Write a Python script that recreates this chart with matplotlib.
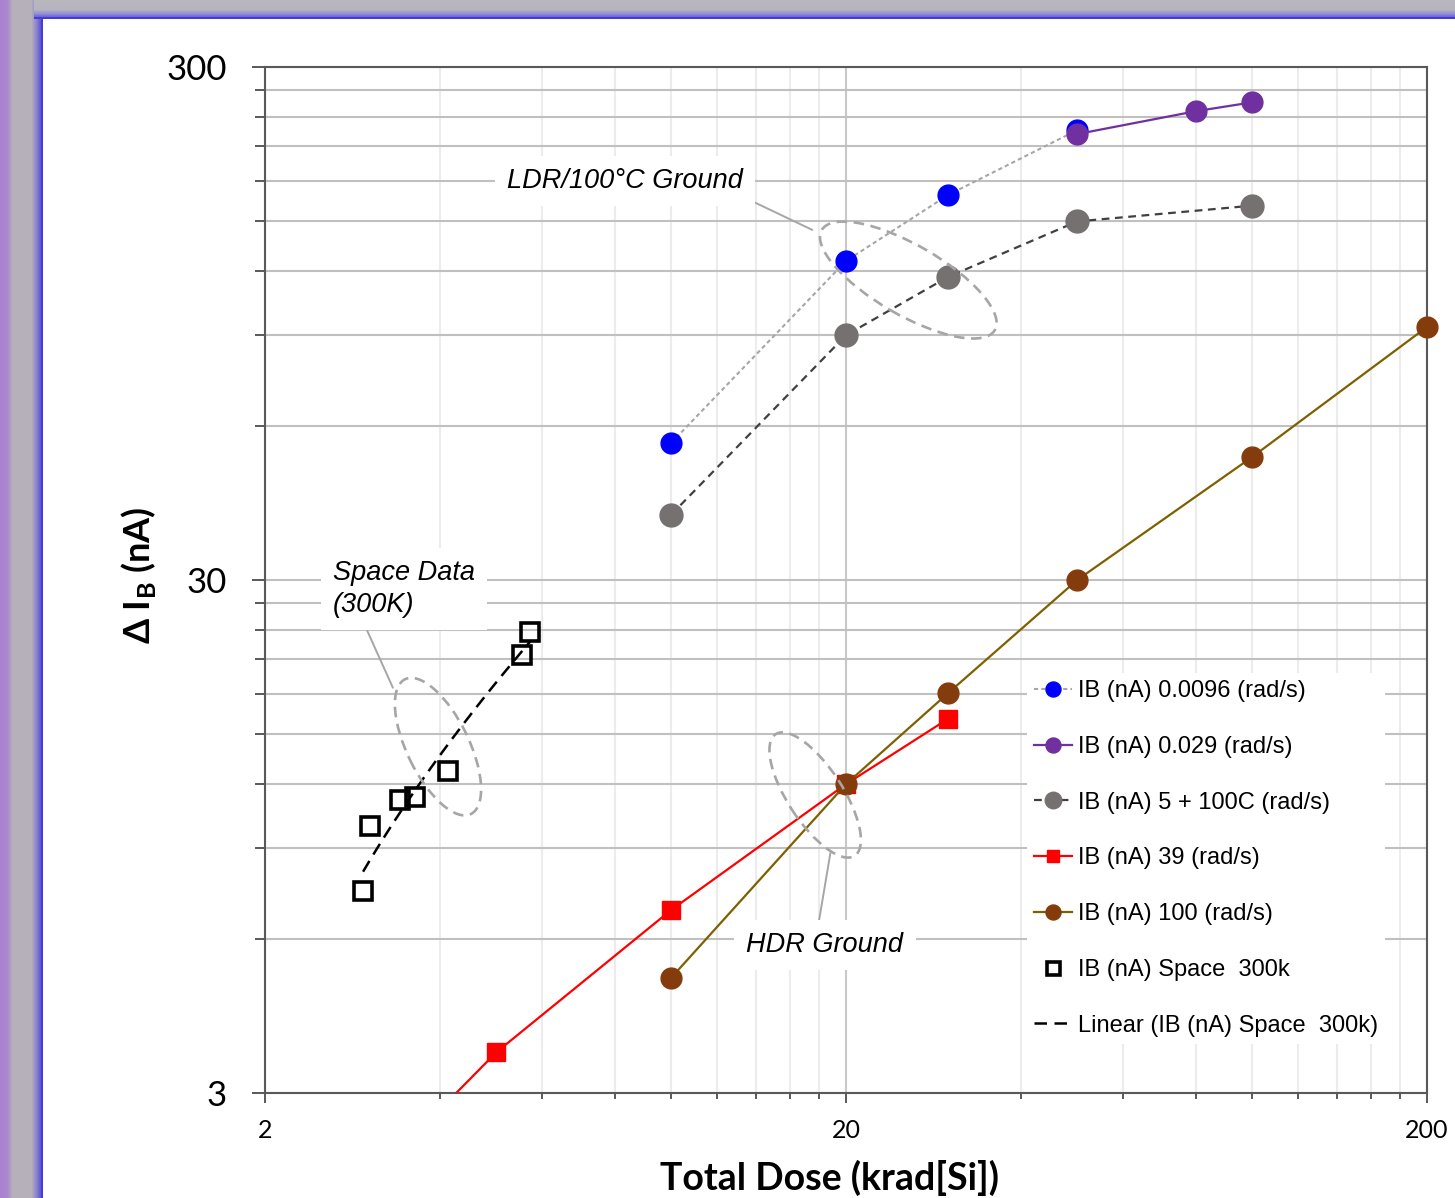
import numpy as np
import matplotlib.pyplot as plt
from matplotlib.patches import Ellipse, Rectangle
from matplotlib.transforms import ScaledTranslation
from matplotlib.ticker import NullFormatter

# data
dose_0096 = [10, 20, 30, 50]
ib_0096 = [55.5, 125.6, 169, 226]
dose_029 = [50, 80, 100]
ib_029 = [222, 246, 256]
dose_100c = [10, 20, 30, 50, 100]
ib_100c = [40.2, 90, 117, 150, 161]
dose_39 = [3, 5, 10, 20, 30]
ib_39 = [2.0, 3.6, 6.82, 12, 16.1]
dose_100 = [10, 20, 30, 50, 100, 200]
ib_100 = [5.03, 12, 18.07, 30, 52.1, 93.4]
dose_space = [2.95, 3.03, 3.42, 3.62, 4.13, 5.54, 5.72]
ib_space = [7.43, 9.94, 11.18, 11.32, 12.73, 21.4, 23.75]

series_labels = ['IB (nA) 0.0096 (rad/s)', 'IB (nA) 0.029 (rad/s)', 'IB (nA) 5 + 100C (rad/s)',
                 'IB (nA) 39 (rad/s)', 'IB (nA) 100 (rad/s)', 'IB (nA) Space  300k',
                 'Linear (IB (nA) Space  300k)']
x_ticks = [2, 20, 200]
x_minor = [4, 6, 8, 10, 12, 14, 16, 18, 40, 60, 80, 100, 120, 140, 160, 180]
y_ticks = [3, 30, 300]
y_minor = [6, 9, 12, 15, 18, 21, 24, 27, 60, 90, 120, 150, 180, 210, 240, 270]

plt.rcParams['font.family'] = ['Lato', 'DejaVu Sans']
plt.rcParams['mathtext.fontset'] = 'custom'
plt.rcParams['mathtext.rm'] = 'Lato'
plt.rcParams['mathtext.bf'] = 'Lato:bold'

W, H = 1455, 1198
fig = plt.figure(figsize=(W / 100, H / 100), dpi=100, facecolor='white')

# slide frame behind the chart
bg = fig.add_axes([0, 0, 1, 1], zorder=-10)
xs = np.arange(43)
lp = [0, 7, 12, 31, 36, 40, 41, 43]
lc = np.array([(170, 128, 210), (172, 135, 205), (181, 176, 186), (181, 176, 186),
               (140, 132, 205), (95, 90, 212), (70, 60, 215), (70, 60, 215)]) / 255
left = np.stack([np.interp(xs, lp, lc[:, k]) for k in range(3)], axis=-1)
bg.imshow(left[np.newaxis], extent=(0, 43, H, 0), aspect='auto')
ys = np.arange(19)
tp = [0, 9, 13, 16, 17, 19]
tc = np.array([(186, 182, 190), (183, 180, 192), (150, 146, 212), (110, 104, 218),
               (70, 60, 212), (70, 60, 212)]) / 255
top = np.stack([np.interp(ys, tp, tc[:, k]) for k in range(3)], axis=-1)
bg.imshow(top[:, np.newaxis], extent=(34, W, 19, 0), aspect='auto')
bg.add_patch(Rectangle((43, 19), W - 43, H - 19, fc='white', ec='none'))
bg.set_xlim(0, W)
bg.set_ylim(H, 0)
bg.axis('off')

ax = fig.add_axes([265 / W, 1 - 1093 / H, (1427 - 265) / W, (1093 - 67) / H])
ax.set_xscale('log')
ax.set_yscale('log')

ax.plot(dose_0096, ib_0096, color='#a6a6a6', lw=1.5, ls=(0, (2, 1.5)), marker='o', ms=15,
        mfc='#0000ff', mec='#0000ff', label=series_labels[0], zorder=3)
ax.plot(dose_029, ib_029, color='#7030a0', lw=1.6, marker='o', ms=15,
        mfc='#7030a0', mec='#7030a0', label=series_labels[1], zorder=4)
ax.plot(dose_100c, ib_100c, color='#404040', lw=1.6, ls=(0, (3.5, 2.5)), marker='o', ms=16.5,
        mfc='#767171', mec='#767171', label=series_labels[2], zorder=3)
ax.plot(dose_39, ib_39, color='#ff0000', lw=1.6, marker='s', ms=12.5,
        mfc='#ff0000', mec='#ff0000', label=series_labels[3], zorder=4)
ax.plot(dose_100, ib_100, color='#7f6000', lw=1.6, marker='o', ms=15,
        mfc='#843c0c', mec='#843c0c', label=series_labels[4], zorder=5, clip_on=False)
ax.plot(dose_space, ib_space, ls='none', marker='s', ms=13, mfc='none', mec='black',
        mew=2.6, label=series_labels[5], zorder=6)

# Excel-style linear trendline on the space data
slope, icpt = np.polyfit(dose_space, ib_space, 1)
xt = np.linspace(min(dose_space), max(dose_space), 50)
ax.plot(xt, slope * xt + icpt, color='black', lw=1.8, ls=(0, (5, 3)),
        label=series_labels[6], zorder=7)

ax.set_xlim(2, 200)
ax.set_ylim(3, 300)
ax.set_xticks(x_ticks, labels=[str(v) for v in x_ticks])
ax.set_xticks(x_minor, minor=True)
ax.set_yticks(y_ticks, labels=[str(v) for v in y_ticks])
ax.set_yticks(y_minor, minor=True)
ax.xaxis.set_minor_formatter(NullFormatter())
ax.yaxis.set_minor_formatter(NullFormatter())

ax.set_axisbelow(True)
ax.grid(axis='y', which='both', color='#c0c0c0', lw=1.5)
ax.grid(axis='x', which='minor', color='#ececec', lw=1.5)
ax.grid(axis='x', which='major', color='#c8c8c8', lw=1.5)

for s in ax.spines.values():
    s.set_color('#595959')
    s.set_linewidth(1.5)
ax.tick_params(axis='y', which='major', labelsize=25, length=9.4, width=1.4,
               color='#595959', pad=18)
ax.tick_params(axis='y', which='minor', length=7.2, width=1.4, color='#595959')
ax.tick_params(axis='x', which='major', labelsize=18, length=7, width=1.4,
               color='#595959', pad=12)
ax.tick_params(axis='x', which='minor', length=4.5, width=1.4, color='#595959')

fig.text(829 / W, 1 - 1178 / H, 'Total Dose (krad[Si])', fontsize=27, fontweight='bold',
         ha='center', va='center')
fig.text(138 / W, 1 - 575 / H, r'Δ I$_{\mathbf{B}}$ (nA)', fontsize=26, fontweight='bold',
         rotation=90, ha='center', va='center')

# callouts
note_font = ['Liberation Sans', 'DejaVu Sans']
box = dict(boxstyle='square,pad=0.45', fc='white', ec='none')
ax.annotate('LDR/100°C Ground', xy=(17.5, 144.4), xytext=(8.33, 180), ha='center', va='center',
            fontsize=19.5, style='italic', family=note_font, bbox=box, zorder=6,
            arrowprops=dict(arrowstyle='-', color='#a6a6a6', lw=1.4, shrinkA=0, shrinkB=0,
                            relpos=(0.95, 0.1)))
ax.annotate('Space Data\n(300K)', xy=(3.32, 18.5), xytext=(2.62, 28.8), ha='left', va='center',
            fontsize=19.5, style='italic', family=note_font, bbox=box, zorder=6,
            linespacing=1.3,
            arrowprops=dict(arrowstyle='-', color='#a6a6a6', lw=1.4, shrinkA=0, shrinkB=0,
                            relpos=(0.2, 0.0)))
ax.annotate('HDR Ground', xy=(18.8, 8.81), xytext=(18.4, 5.83), ha='center', va='center',
            fontsize=19.5, style='italic', family=note_font, bbox=box, zorder=6,
            arrowprops=dict(arrowstyle='-', color='#a6a6a6', lw=1.4, shrinkA=0, shrinkB=0,
                            relpos=(0.45, 1.0)))

for cx, cy, w, h, ang in [(3.97, 14.2, 1.50, 0.62, -64), (25.6, 115.3, 2.0, 0.70, -30),
                          (17.7, 11.43, 1.45, 0.55, -57)]:
    ax.add_patch(Ellipse((0, 0), w, h, angle=ang, fill=False, ec='#a6a6a6', lw=1.9,
                         ls=(0, (4, 2.5)), zorder=8,
                         transform=fig.dpi_scale_trans + ScaledTranslation(cx, cy, ax.transData)))

ax.legend(loc='upper left', bbox_to_anchor=(1027 / W, 1 - 673 / H), bbox_transform=fig.transFigure,
          prop={'family': note_font, 'size': 17}, frameon=True, facecolor='white',
          edgecolor='none', framealpha=1, fancybox=False, handlelength=1.6,
          handletextpad=0.25, labelspacing=1.43, markerscale=0.72, borderpad=0.3,
          borderaxespad=0)

fig.savefig('out.png', dpi=100)
